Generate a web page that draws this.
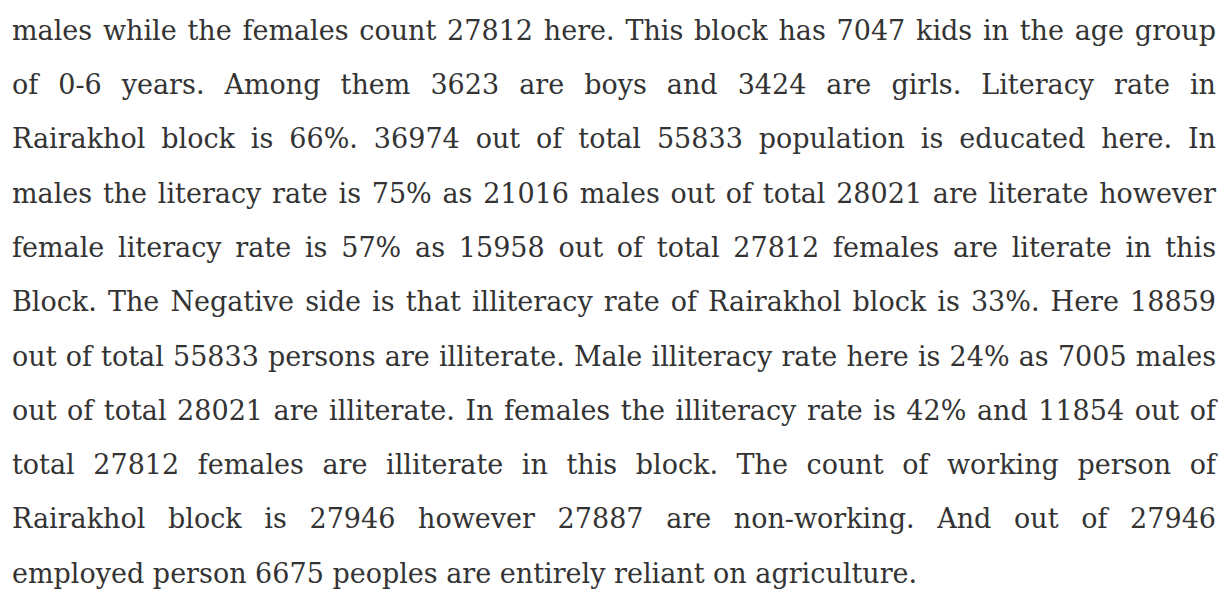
<!DOCTYPE html>
<html>
<head>
<meta charset="utf-8">
<title>Rairakhol block</title>
<script src="https://cdn.jsdelivr.net/npm/chart.js@4"></script>
<style>
  html, body { margin: 0; padding: 0; background: #fff; }
  body { width: 1226px; height: 589px; overflow: hidden; }
  #text {
    position: absolute;
    left: 12px;
    width: 1204px;
    top: 3px;
    font-family: "DejaVu Serif", serif;
    color: #333;
    font-size: 25px;
    line-height: 54.3px;
  }
  .line { white-space: nowrap; text-align: justify; text-align-last: justify; }
  .line.last { text-align-last: left; }
</style>
</head>
<body>
<div id="text"></div>
<script>
// Paragraph lines as they break in the picture
const lines = [
  "males while the females count 27812 here. This block has 7047 kids in the age group",
  "of 0-6 years. Among them 3623 are boys and 3424 are girls. Literacy rate in",
  "Rairakhol block is 66%. 36974 out of total 55833 population is educated here. In",
  "males the literacy rate is 75% as 21016 males out of total 28021 are literate however",
  "female literacy rate is 57% as 15958 out of total 27812 females are literate in this",
  "Block. The Negative side is that illiteracy rate of Rairakhol block is 33%. Here 18859",
  "out of total 55833 persons are illiterate. Male illiteracy rate here is 24% as 7005 males",
  "out of total 28021 are illiterate. In females the illiteracy rate is 42% and 11854 out of",
  "total 27812 females are illiterate in this block. The count of working person of",
  "Rairakhol block is 27946 however 27887 are non-working. And out of 27946",
  "employed person 6675 peoples are entirely reliant on agriculture."
];

const box = document.getElementById('text');
const boxWidth = 1204;

// size the font so the widest line just fills the column
const probe = document.createElement('span');
probe.style.whiteSpace = 'nowrap';
box.appendChild(probe);
let widest = 0;
lines.forEach(l => {
  probe.textContent = l;
  widest = Math.max(widest, probe.getBoundingClientRect().width);
});
box.removeChild(probe);
const size = Math.min(27, 25 * boxWidth / widest - 0.05);
box.style.fontSize = size.toFixed(2) + 'px';
box.style.top = (5 - (size - 25) * 0.6).toFixed(1) + 'px';

lines.forEach((l, i) => {
  const div = document.createElement('div');
  div.className = 'line' + (i === lines.length - 1 ? ' last' : '');
  div.textContent = l;
  box.appendChild(div);
});
</script>
</body>
</html>
